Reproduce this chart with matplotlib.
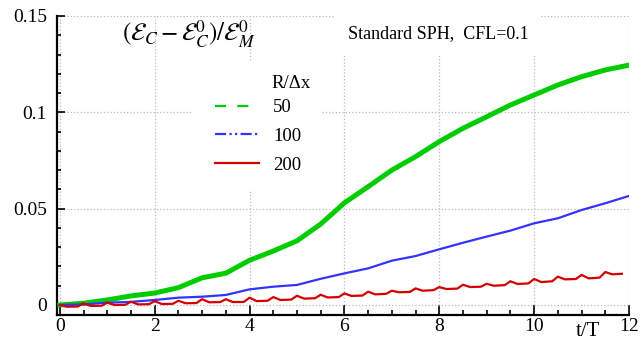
import matplotlib.pyplot as plt
from matplotlib.lines import Line2D
from matplotlib.patches import Rectangle
from matplotlib.ticker import MultipleLocator

# Данные (t/T, значения)
green_t = [0, 0.5, 1, 1.5, 2, 2.5, 3, 3.5, 4, 4.5, 5, 5.5, 6, 6.5, 7, 7.5,
           8, 8.5, 9, 9.5, 10, 10.5, 11, 11.5, 12]
green_v = [0.0, 0.0009, 0.0026, 0.0047, 0.0062, 0.0090, 0.0141, 0.0165,
           0.0232, 0.0280, 0.0333, 0.0420, 0.0530, 0.0614, 0.0700, 0.0770,
           0.0848, 0.0917, 0.0977, 0.1038, 0.1090, 0.1142, 0.1185, 0.1220,
           0.1245]

blue_t = green_t
blue_v = [0.0, 0.0003, 0.0012, 0.0016, 0.0026, 0.0038, 0.0043, 0.0052,
          0.0081, 0.0095, 0.0104, 0.0136, 0.0164, 0.0190, 0.0230, 0.0254,
          0.0289, 0.0323, 0.0355, 0.0386, 0.0424, 0.0450, 0.0493, 0.0528,
          0.0566]

red_t = [0, 0.15, 0.38, 0.5, 0.65, 0.88, 1, 1.15, 1.38, 1.5, 1.65, 1.88,
         2, 2.15, 2.38, 2.5, 2.65, 2.88, 3, 3.15, 3.38, 3.5, 3.65, 3.88,
         4, 4.15, 4.38, 4.5, 4.65, 4.88, 5, 5.15, 5.38, 5.5, 5.65, 5.88,
         6, 6.15, 6.38, 6.5, 6.65, 6.88, 7, 7.15, 7.38, 7.5, 7.65, 7.88,
         8, 8.15, 8.38, 8.5, 8.65, 8.88, 9, 9.15, 9.38, 9.5, 9.65, 9.88,
         10, 10.15, 10.38, 10.5, 10.65, 10.88, 11, 11.15, 11.38,
         11.5, 11.65, 11.85]
red_v = [0, -0.0009, -0.0008, 0.0009, -0.0005, -0.0004, 0.0012, 0.0, 0.0001,
         0.0017, 0.0003, 0.0004, 0.0020, 0.0005, 0.0006, 0.0022, 0.0009, 0.0010,
         0.0030, 0.0014, 0.0015, 0.0030, 0.0015, 0.0016, 0.0038, 0.0020, 0.0022,
         0.0041, 0.0026, 0.0028, 0.0048, 0.0033, 0.0035, 0.0053, 0.0039, 0.0041,
         0.0060, 0.0047, 0.0049, 0.0069, 0.0055, 0.0058, 0.0074, 0.0066, 0.0068,
         0.0086, 0.0074, 0.0077, 0.0093, 0.0083, 0.0085, 0.0105, 0.0093, 0.0095,
         0.0110, 0.0100, 0.0103, 0.0123, 0.0109, 0.0112, 0.0135, 0.0119, 0.0123,
         0.0147, 0.0133, 0.0135, 0.0156, 0.0138, 0.0142, 0.0171, 0.0159, 0.0162]

labels = ["50", "100", "200"]
colors = ["#00cc00", "#3333ff", "#d40000"]

plt.rcParams["font.family"] = "Liberation Serif"
plt.rcParams["mathtext.fontset"] = "stix"

fig = plt.figure(figsize=(6.41, 3.41), dpi=100)
W, H = 641, 341
ax = fig.add_axes([56.5 / W, 1 - 315 / H, (629 - 56.5) / W, (315 - 16) / H])

ax.plot(green_t, green_v, color=colors[0], lw=3.6, zorder=3)
ax.plot(blue_t, blue_v, color=colors[1], lw=1.6, zorder=3)
ax.plot(red_t, red_v, color=colors[2], lw=1.6, zorder=3)

ax.set_xlim(-0.07, 12)
ax.set_ylim(-0.0052, 0.15)

ax.xaxis.set_major_locator(MultipleLocator(2))
ax.xaxis.set_minor_locator(MultipleLocator(0.5))
ax.yaxis.set_minor_locator(MultipleLocator(0.01))
ax.set_yticks([0, 0.05, 0.1, 0.15])
ax.set_yticklabels(["0", "0.05", "0.1", "0.15"])

ax.tick_params(which="both", direction="in", labelsize=14, width=1.2)
ax.tick_params(axis="y", which="major", length=6, pad=7)
ax.tick_params(axis="y", which="minor", length=3)
ax.tick_params(axis="x", which="major", length=7, pad=2)
ax.tick_params(axis="x", which="minor", length=3.5)

for s in ["top", "right"]:
    ax.spines[s].set_visible(False)
for s in ["left", "bottom"]:
    ax.spines[s].set_linewidth(1.6)

ax.grid(True, which="major", linestyle=":", color="#bbbbbb", linewidth=0.9)
ax.set_axisbelow(True)

# Белая подложка легенды
ax.add_patch(Rectangle((192 / W, 1 - 190 / H), 130 / W, 128 / H,
                       transform=fig.transFigure, facecolor="white",
                       edgecolor="none", zorder=2, clip_on=False))

# Легенда
handles = [
    Line2D([], [], color=colors[0], lw=1.6, linestyle=(0, (5, 5))),
    Line2D([], [], color=colors[1], lw=1.6, linestyle=(0, (5, 1.5, 1, 1.5, 1, 1.5))),
    Line2D([], [], color=colors[2], lw=1.6),
]
leg = ax.legend(handles, labels, fontsize=13.5,
                loc="upper left", bbox_to_anchor=(215 / W, 1 - 99 / H),
                bbox_transform=fig.transFigure, frameon=False,
                handlelength=2.35, handletextpad=0.75, labelspacing=0.62,
                borderpad=0, borderaxespad=0)
fig.text(291 / W, 1 - 83 / H, "R/\u0394x", fontsize=13.5, ha="center", va="center")

# Подписи
fig.text(189 / W, 1 - 34 / H,
         r"$(\mathcal{E}_C-\mathcal{E}_C^0)/\mathcal{E}_M^0$",
         fontsize=18, ha="center", va="center")
fig.text(438 / W, 1 - 34 / H, "Standard SPH,  CFL=0.1", fontsize=13,
         ha="center", va="center",
         bbox=dict(boxstyle="square,pad=0.7", facecolor="white", edgecolor="none"))
fig.text(588 / W, 1 - 331 / H, "t/T", fontsize=15, ha="center", va="center")

fig.savefig("out.png", dpi=100)
